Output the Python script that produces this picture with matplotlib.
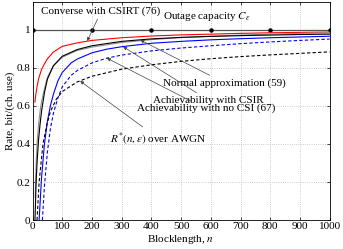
import numpy as np
import matplotlib
matplotlib.use("Agg")
import matplotlib.pyplot as plt

plt.rcParams['font.family'] = ['Liberation Serif', 'DejaVu Serif']
plt.rcParams['mathtext.fontset'] = 'stix'
plt.rcParams['font.size'] = 8

# values (blocklength n -> rate)
n_red = [8, 10, 15, 20, 30, 40, 50, 70, 100, 150, 200, 300, 400, 500, 600, 700, 800, 900, 1000]
converse = [0.62, 0.65, 0.70, 0.74, 0.79, 0.82, 0.847, 0.882, 0.912, 0.93, 0.943, 0.957, 0.966, 0.972, 0.976, 0.98, 0.983, 0.985, 0.987]

n_blk = [8, 10, 12, 15, 20, 25, 30, 40, 50, 70, 100, 150, 200, 300, 400, 500, 600, 700, 800, 900, 1000]
csir_black = [0.0, 0.1, 0.2, 0.3, 0.42, 0.5, 0.57, 0.67, 0.74, 0.81, 0.86, 0.895, 0.915, 0.938, 0.951, 0.959, 0.964, 0.968, 0.971, 0.974, 0.976]

n_grey = [9, 10, 12, 15, 20, 25, 30, 40, 50, 70, 100, 150, 200, 300, 400, 500, 600, 700, 800, 900, 1000]
normal_approx = [0.12, 0.2, 0.3, 0.4, 0.5, 0.57, 0.62, 0.69, 0.75, 0.81, 0.855, 0.89, 0.908, 0.932, 0.947, 0.958, 0.965, 0.971, 0.976, 0.98, 0.983]

n_blue = [22, 30, 40, 50, 60, 70, 85, 100, 130, 150, 200, 250, 300, 400, 500, 600, 700, 800, 900, 1000]
csir_blue = [0.0, 0.22, 0.4, 0.52, 0.6, 0.66, 0.73, 0.775, 0.825, 0.845, 0.878, 0.897, 0.91, 0.928, 0.938, 0.946, 0.952, 0.957, 0.961, 0.965]

n_bdash = [33, 40, 50, 60, 70, 85, 100, 130, 150, 200, 250, 300, 400, 500, 600, 700, 800, 900, 1000]
nocsi = [0.0, 0.18, 0.36, 0.48, 0.56, 0.64, 0.70, 0.76, 0.785, 0.825, 0.85, 0.866, 0.888, 0.903, 0.915, 0.926, 0.935, 0.943, 0.95]

n_kdash = [15, 22, 35, 48, 60, 80, 100, 150, 200, 300, 400, 500, 600, 700, 800, 900, 1000]
awgn = [0.0, 0.2, 0.4, 0.5, 0.57, 0.635, 0.675, 0.725, 0.755, 0.792, 0.815, 0.833, 0.847, 0.858, 0.867, 0.875, 0.883]

n_out = [0, 200, 400, 600, 800, 1000]
outage = [1, 1, 1, 1, 1, 1]

fig = plt.figure(figsize=(3.43, 2.49), dpi=100)
ax = fig.add_axes([0.095, 0.116, 0.866, 0.874])

ax.plot(n_out, outage, color='#555555', lw=0.9, marker='o', ms=2.2, mfc='k', mec='k')
ax.plot(n_red, converse, color='red', lw=0.8)
ax.plot(n_grey, normal_approx, color='#909090', lw=0.8)
ax.plot(n_blk, csir_black, color='k', lw=0.8)
ax.plot(n_blue, csir_blue, color='blue', lw=0.8)
ax.plot(n_bdash, nocsi, color='blue', lw=0.8, dashes=(3, 2))
ax.plot(n_kdash, awgn, color='k', lw=0.8, dashes=(3, 2))

ax.set_xlim(0, 1000)
ax.set_ylim(0, 1.142)
ax.set_xticks(np.arange(0, 1001, 100))
ax.set_yticks([0, 0.2, 0.4, 0.6, 0.8, 1])
ax.set_yticklabels(['0', '0.2', '0.4', '0.6', '0.8', '1'])
ax.tick_params(direction='in', top=True, right=True, length=2.5, width=0.5, pad=1.5)
ax.grid(True, ls=':', color='#bbbbbb', lw=0.6)
for s in ax.spines.values():
    s.set_linewidth(0.6)
ax.set_xlabel('Blocklength, $n$', labelpad=1)
ax.set_ylabel('Rate, bit/(ch. use)', labelpad=1)

arw = dict(arrowstyle='-|>', color='#444444', lw=0.5, mutation_scale=5, shrinkA=0, shrinkB=0)
ax.annotate('Converse with CSIRT (76)', xy=(184, 0.94), xytext=(30, 1.095),
            arrowprops=arw, ha='left', va='center')
ax.annotate('Outage capacity $C_\\epsilon$', xy=(0, 0), xytext=(440, 1.07),
            ha='left', va='center')
ax.annotate('Normal approximation (59)', xy=(363, 0.945), xytext=(440, 0.72),
            arrowprops=arw, ha='left', va='center')
ax.annotate('Achievability with CSIR', xy=(305, 0.91), xytext=(405, 0.63),
            arrowprops=arw, ha='left', va='center')
ax.annotate('Achievability with no CSI (67)', xy=(250, 0.85), xytext=(350, 0.585),
            arrowprops=arw, ha='left', va='center')
ax.annotate('$R^{*}(n,\\epsilon)$ over AWGN', xy=(160, 0.73), xytext=(260, 0.43),
            arrowprops=arw, ha='left', va='center')

fig.savefig('out.png', dpi=100)
